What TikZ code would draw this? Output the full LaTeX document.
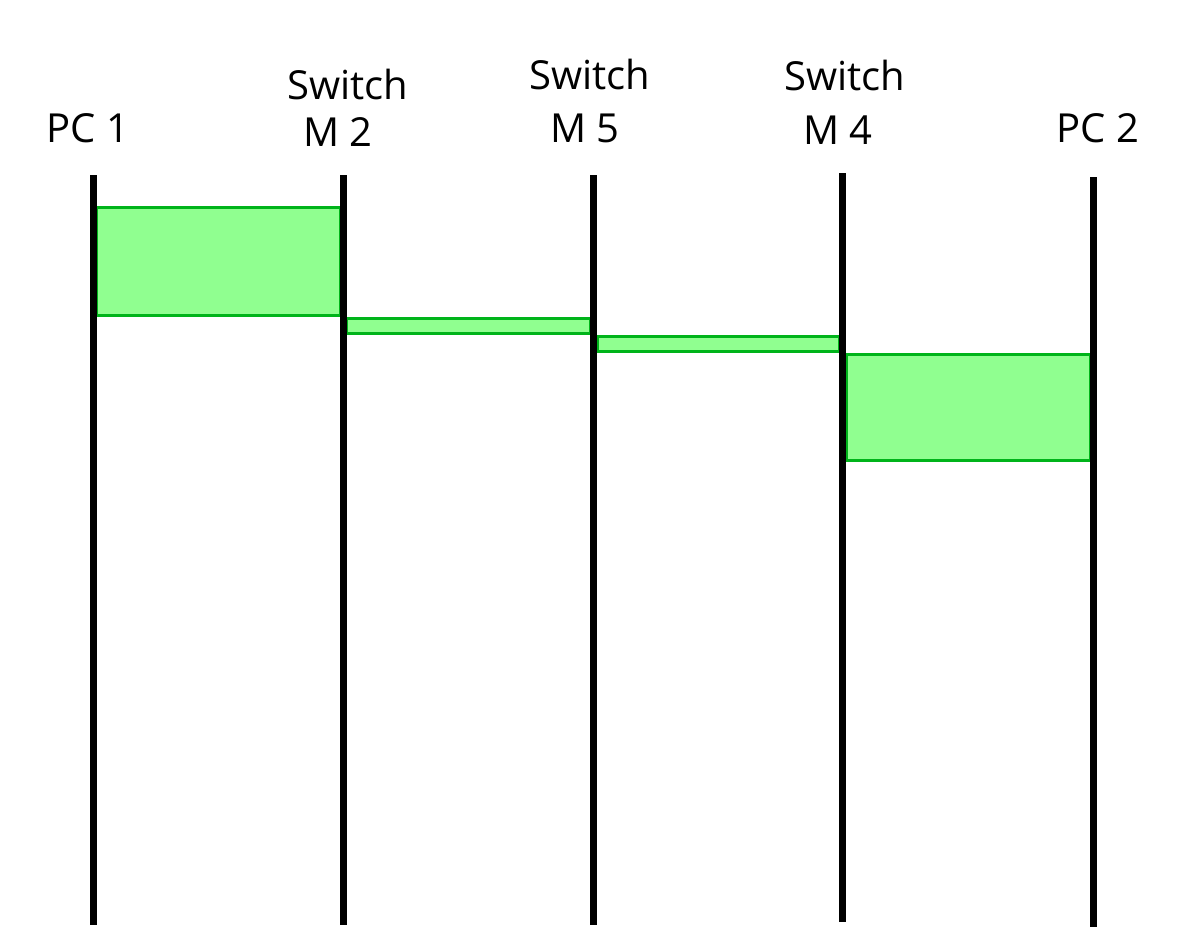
\documentclass[tikz,border=0pt]{standalone}
\usepackage{fontspec}
\setmainfont{Open Sans}
\definecolor{gfill}{HTML}{90FF90}
\definecolor{gline}{HTML}{00B41A}
\begin{document}
\begin{tikzpicture}[x=1pt,y=-1pt,
  life/.style={line width=7pt,black},
  seg/.style={fill=gfill,draw=gline,line width=3pt},
  lab/.style={font=\fontsize{40}{46}\selectfont,inner sep=0pt,align=center}]
\useasboundingbox (0,0) rectangle (1195,951);
% lifelines
\coordinate (p1t) at (93,175); \coordinate (p1b) at (93,925);
\coordinate (s2t) at (343,175); \coordinate (s2b) at (343,925);
\coordinate (s5t) at (593,175); \coordinate (s5b) at (593,925);
\coordinate (s4t) at (842,173); \coordinate (s4b) at (842,922);
\coordinate (p2t) at (1093,177); \coordinate (p2b) at (1093,927);
% green segments
\draw[seg] (96,207) rectangle (340,315);
\draw[seg] (346,318) rectangle (590,333);
\draw[seg] (597,336) rectangle (839,351);
\draw[seg] (846,354) rectangle (1090,460);
\draw[life] (p1t) -- (p1b);
\draw[life] (s2t) -- (s2b);
\draw[life] (s5t) -- (s5b);
\draw[life] (s4t) -- (s4b);
\draw[life] (p2t) -- (p2b);
% labels
\node[lab] (lpc1) at (88,128) {PC 1};
\node[lab] (ls2a) at (348,84) {Switch};
\node[lab] (ls2b) at (338,132) {M 2};
\node[lab] (ls5a) at (590,74) {Switch};
\node[lab] (ls5b) at (585,128) {M 5};
\node[lab] (ls4a) at (845,75) {Switch};
\node[lab] (ls4b) at (838,130) {M 4};
\node[lab] (lpc2) at (1098,128) {PC 2};
\end{tikzpicture}
\end{document}
